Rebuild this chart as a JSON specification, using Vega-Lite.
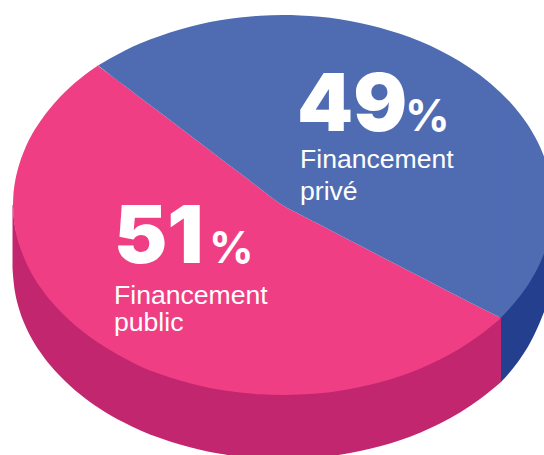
{
"$schema":"https://vega.github.io/schema/vega-lite/v6.json",
"width":544,"height":455,"padding":0,"autosize":{"type":"none"},
"background":"white","view":{"stroke":null},
"datasets":{
"shapes":[
{"part":"public côté","seg":"pc","x":12.5,"y":205,"y2":268},
{"part":"public côté","seg":"pc","x":13,"y":205,"y2":275},
{"part":"public côté","seg":"pc","x":13.5,"y":214,"y2":280.6},
{"part":"public côté","seg":"pc","x":14,"y":219,"y2":285.3},
{"part":"public côté","seg":"pc","x":15,"y":226,"y2":292.1},
{"part":"public côté","seg":"pc","x":17,"y":235,"y2":301.6},
{"part":"public côté","seg":"pc","x":20,"y":245,"y2":312},
{"part":"public côté","seg":"pc","x":25,"y":258,"y2":325},
{"part":"public côté","seg":"pc","x":30,"y":268,"y2":335.4},
{"part":"public côté","seg":"pc","x":40,"y":285,"y2":351.8},
{"part":"public côté","seg":"pc","x":50,"y":298,"y2":365},
{"part":"public côté","seg":"pc","x":60,"y":309,"y2":376.1},
{"part":"public côté","seg":"pc","x":70,"y":319,"y2":385.8},
{"part":"public côté","seg":"pc","x":80,"y":327,"y2":394.3},
{"part":"public côté","seg":"pc","x":90,"y":335,"y2":401.9},
{"part":"public côté","seg":"pc","x":100,"y":341,"y2":408.8},
{"part":"public côté","seg":"pc","x":110,"y":348,"y2":414.9},
{"part":"public côté","seg":"pc","x":125,"y":357,"y2":423.1},
{"part":"public côté","seg":"pc","x":140,"y":364,"y2":430.2},
{"part":"public côté","seg":"pc","x":160,"y":372,"y2":438.1},
{"part":"public côté","seg":"pc","x":180,"y":378,"y2":444.6},
{"part":"public côté","seg":"pc","x":200,"y":384,"y2":449.8},
{"part":"public côté","seg":"pc","x":220,"y":388,"y2":453.8},
{"part":"public côté","seg":"pc","x":240,"y":390,"y2":456.6},
{"part":"public côté","seg":"pc","x":260,"y":392,"y2":458.3},
{"part":"public côté","seg":"pc","x":283,"y":393,"y2":459},
{"part":"public côté","seg":"pc","x":300,"y":392,"y2":458.6},
{"part":"public côté","seg":"pc","x":320,"y":391,"y2":457.2},
{"part":"public côté","seg":"pc","x":340,"y":388,"y2":454.7},
{"part":"public côté","seg":"pc","x":360,"y":385,"y2":451.1},
{"part":"public côté","seg":"pc","x":380,"y":380,"y2":446.3},
{"part":"public côté","seg":"pc","x":400,"y":374,"y2":440.2},
{"part":"public côté","seg":"pc","x":420,"y":366,"y2":432.7},
{"part":"public côté","seg":"pc","x":440,"y":357,"y2":423.6},
{"part":"public côté","seg":"pc","x":460,"y":346,"y2":412.5},
{"part":"public côté","seg":"pc","x":480,"y":332,"y2":398.9},
{"part":"public côté","seg":"pc","x":501,"y":315,"y2":382},
{"part":"privé côté","seg":"bc","x":501,"y":315,"y2":382},
{"part":"privé côté","seg":"bc","x":510,"y":305,"y2":372},
{"part":"privé côté","seg":"bc","x":520,"y":293,"y2":359},
{"part":"privé côté","seg":"bc","x":530,"y":279,"y2":343},
{"part":"privé côté","seg":"bc","x":540,"y":260,"y2":322},
{"part":"privé côté","seg":"bc","x":544,"y":251,"y2":312},
{"part":"public dessus","seg":"p1","x":13,"y":205,"y2":205},
{"part":"public dessus","seg":"p1","x":13.5,"y":193.4,"y2":216.6},
{"part":"public dessus","seg":"p1","x":14,"y":188.7,"y2":221.3},
{"part":"public dessus","seg":"p1","x":15,"y":181.9,"y2":228.1},
{"part":"public dessus","seg":"p1","x":17,"y":172.4,"y2":237.6},
{"part":"public dessus","seg":"p1","x":20,"y":162,"y2":247},
{"part":"public dessus","seg":"p1","x":25,"y":148.7,"y2":260},
{"part":"public dessus","seg":"p1","x":30,"y":138.1,"y2":270.4},
{"part":"public dessus","seg":"p1","x":40,"y":121.7,"y2":286.8},
{"part":"public dessus","seg":"p1","x":50,"y":108.5,"y2":300},
{"part":"public dessus","seg":"p1","x":60,"y":97,"y2":311},
{"part":"public dessus","seg":"p1","x":70,"y":87.2,"y2":320.8},
{"part":"public dessus","seg":"p1","x":80,"y":78.7,"y2":329.3},
{"part":"public dessus","seg":"p1","x":90,"y":71.1,"y2":336.9},
{"part":"public dessus","seg":"p1","x":98,"y":65.6,"y2":342.4},
{"part":"public dessus","seg":"p2","x":97.5,"y":65.6,"y2":342.2},
{"part":"public dessus","seg":"p2","x":110,"y":74.7,"y2":349.9},
{"part":"public dessus","seg":"p2","x":125,"y":86,"y2":358.6},
{"part":"public dessus","seg":"p2","x":140,"y":97.5,"y2":366.2},
{"part":"public dessus","seg":"p2","x":160,"y":112.6,"y2":374.1},
{"part":"public dessus","seg":"p2","x":180,"y":127.8,"y2":380.6},
{"part":"public dessus","seg":"p2","x":200,"y":143,"y2":385.8},
{"part":"public dessus","seg":"p2","x":220,"y":158.2,"y2":389.8},
{"part":"public dessus","seg":"p2","x":240,"y":173.3,"y2":392.6},
{"part":"public dessus","seg":"p2","x":260,"y":188.5,"y2":394.3},
{"part":"public dessus","seg":"p2","x":283,"y":205.5,"y2":395},
{"part":"public dessus","seg":"p2","x":300,"y":214.5,"y2":394.6},
{"part":"public dessus","seg":"p2","x":320,"y":224.8,"y2":393.2},
{"part":"public dessus","seg":"p2","x":340,"y":235.2,"y2":390.7},
{"part":"public dessus","seg":"p2","x":360,"y":245.5,"y2":387.1},
{"part":"public dessus","seg":"p2","x":380,"y":255.9,"y2":382.3},
{"part":"public dessus","seg":"p2","x":400,"y":266.2,"y2":376.2},
{"part":"public dessus","seg":"p2","x":420,"y":276.6,"y2":368.7},
{"part":"public dessus","seg":"p2","x":440,"y":286.9,"y2":359.6},
{"part":"public dessus","seg":"p2","x":460,"y":297.3,"y2":348.5},
{"part":"public dessus","seg":"p2","x":480,"y":307.6,"y2":334.9},
{"part":"public dessus","seg":"p2","x":501,"y":318,"y2":318},
{"part":"privé dessus","seg":"b1","x":98,"y":65.6,"y2":65.6},
{"part":"privé dessus","seg":"b1","x":110,"y":58.6,"y2":74.7},
{"part":"privé dessus","seg":"b1","x":125,"y":50.4,"y2":86},
{"part":"privé dessus","seg":"b1","x":140,"y":43.5,"y2":97.5},
{"part":"privé dessus","seg":"b1","x":160,"y":35.9,"y2":112.6},
{"part":"privé dessus","seg":"b1","x":180,"y":29.4,"y2":127.8},
{"part":"privé dessus","seg":"b1","x":200,"y":24.2,"y2":143},
{"part":"privé dessus","seg":"b1","x":220,"y":20.2,"y2":158.2},
{"part":"privé dessus","seg":"b1","x":240,"y":17.4,"y2":173.3},
{"part":"privé dessus","seg":"b1","x":260,"y":15.7,"y2":188.5},
{"part":"privé dessus","seg":"b1","x":283,"y":15,"y2":205.5},
{"part":"privé dessus","seg":"b1","x":300,"y":15.4,"y2":214.5},
{"part":"privé dessus","seg":"b1","x":320,"y":16.8,"y2":224.8},
{"part":"privé dessus","seg":"b1","x":340,"y":19.3,"y2":235.2},
{"part":"privé dessus","seg":"b1","x":360,"y":22.9,"y2":245.5},
{"part":"privé dessus","seg":"b1","x":380,"y":27.7,"y2":255.9},
{"part":"privé dessus","seg":"b1","x":400,"y":33.8,"y2":266.2},
{"part":"privé dessus","seg":"b1","x":420,"y":41.3,"y2":276.6},
{"part":"privé dessus","seg":"b1","x":440,"y":50.4,"y2":286.9},
{"part":"privé dessus","seg":"b1","x":460,"y":61.5,"y2":297.3},
{"part":"privé dessus","seg":"b1","x":480,"y":75.1,"y2":307.6},
{"part":"privé dessus","seg":"b1","x":501,"y":92.9,"y2":318},
{"part":"privé dessus","seg":"b2","x":500.5,"y":92.5,"y2":318},
{"part":"privé dessus","seg":"b2","x":510,"y":102.1,"y2":307.9},
{"part":"privé dessus","seg":"b2","x":520,"y":114,"y2":296},
{"part":"privé dessus","seg":"b2","x":530,"y":128.3,"y2":281.7},
{"part":"privé dessus","seg":"b2","x":540,"y":146.8,"y2":263.2},
{"part":"privé dessus","seg":"b2","x":544,"y":156.4,"y2":253.6}
],
"labels":[
{"kind":"value","text":"49","x":297,"y":131},
{"kind":"value","text":"51","x":114,"y":263},
{"kind":"pct","text":"%","x":405,"y":131},
{"kind":"pct","text":"%","x":209,"y":263},
{"kind":"name","text":"Financement","x":300,"y":168},
{"kind":"name","text":"privé","x":300,"y":199.5},
{"kind":"name","text":"Financement","x":114,"y":304},
{"kind":"name","text":"public","x":114,"y":331}
]},
"layer":[
{"data":{"name":"shapes"},
 "mark":{"type":"area","interpolate":"monotone","clip":true,"orient":"vertical"},
 "encoding":{
  "x":{"field":"x","type":"quantitative","scale":{"domain":[0,544],"nice":false,"zero":false},"axis":null},
  "y":{"field":"y","type":"quantitative","scale":{"domain":[455,0],"nice":false,"zero":false},"axis":null,"stack":null},
  "y2":{"field":"y2"},
  "detail":{"field":"seg"},
  "color":{"field":"part","type":"nominal","legend":null,"scale":{"domain":["public côté","privé côté","public dessus","privé dessus"],"range":["#C2266E","#233F8E","#EF3E84","#4F6CB3"]}}
 }},
{"data":{"name":"labels"},"transform":[{"filter":"datum.kind=='value'"}],
 "mark":{"type":"text","align":"left","baseline":"alphabetic","font":"Inter","fontWeight":900,"fontSize":80,"color":"white"},
 "encoding":{"x":{"field":"x","type":"quantitative"},"y":{"field":"y","type":"quantitative"},"text":{"field":"text"}}},
{"data":{"name":"labels"},"transform":[{"filter":"datum.kind=='pct'"}],
 "mark":{"type":"text","align":"left","baseline":"alphabetic","font":"Inter","fontWeight":700,"fontSize":44,"color":"white"},
 "encoding":{"x":{"field":"x","type":"quantitative"},"y":{"field":"y","type":"quantitative"},"text":{"field":"text"}}},
{"data":{"name":"labels"},"transform":[{"filter":"datum.kind=='name'"}],
 "mark":{"type":"text","align":"left","baseline":"alphabetic","font":"Liberation Sans","fontSize":26.6,"color":"white"},
 "encoding":{"x":{"field":"x","type":"quantitative"},"y":{"field":"y","type":"quantitative"},"text":{"field":"text"}}}
]
}
